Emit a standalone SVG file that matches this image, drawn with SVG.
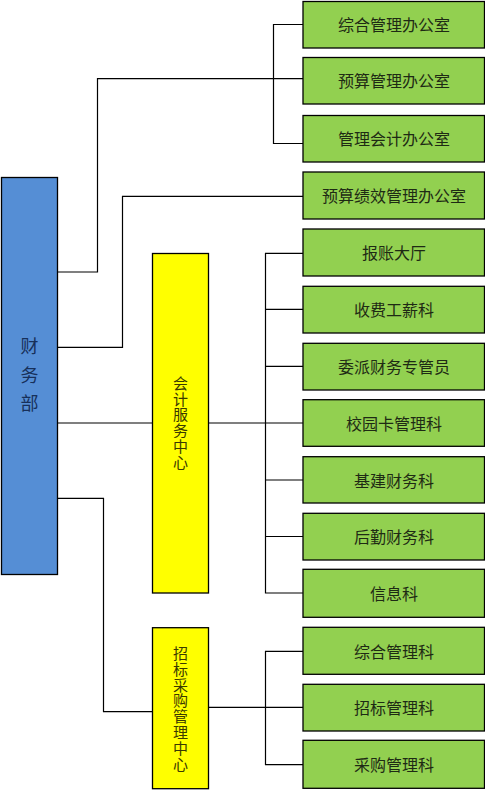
<svg xmlns="http://www.w3.org/2000/svg" width="485" height="790" viewBox="0 0 485 790">
<style>
.bx{stroke:#000;stroke-width:1.3}
.g{fill:#92D050}
.y{fill:#FFFF00}
.b{fill:#558ED5}
.t{font-family:"Noto Sans CJK SC","Liberation Sans",sans-serif;font-size:16px;fill:#1e2a14;text-anchor:middle;dominant-baseline:central}
.tv{font-family:"Noto Sans CJK SC","Liberation Sans",sans-serif;font-size:15px;fill:#3a3a00;text-anchor:middle;writing-mode:vertical-rl;letter-spacing:0.8px}
.tb{font-family:"Noto Sans CJK SC","Liberation Sans",sans-serif;font-size:18px;fill:#17305a;text-anchor:middle;writing-mode:vertical-rl;letter-spacing:10.3px}
.c{fill:none;stroke:#000;stroke-width:1.2}
</style>
<rect width="485" height="790" fill="#fff"/>
<g id="connectors">
<path class="c" d="M303 24.5H273.5V143.5H303"/>
<path class="c" d="M57.5 272H97.5V78.7H303"/>
<path class="c" d="M57.5 347.3H122.5V196.3H303"/>
<path class="c" d="M57.5 423H152.5"/>
<path class="c" d="M208.5 423H303"/>
<path class="c" d="M303 253.3H265.5V593H303"/>
<path class="c" d="M265.5 309.3H303M265.5 366.3H303M265.5 480H303M265.5 536.5H303"/>
<path class="c" d="M57.5 498.3H103.5V711.7H152.5"/>
<path class="c" d="M208.5 707.3H303"/>
<path class="c" d="M303 651.3H265.5V764.7H303"/>
</g>
<g id="caiwubu"><rect class="bx b" x="1.5" y="177.5" width="56" height="397"/>
<text class="tb" x="29.5" y="380">财务部</text></g>
<g id="kuaiji"><rect class="bx y" x="152.5" y="253.5" width="56" height="339.5"/>
<text class="tv" x="180.5" y="423">会计服务中心</text></g>
<g id="zhaobiao"><rect class="bx y" x="152.5" y="627.7" width="56" height="161"/>
<text class="tv" x="180.5" y="709">招标采购管理中心</text></g>
<g id="n1"><rect class="bx g" x="303" y="1.5" width="181.5" height="46.5"/><text class="t" x="394" y="24.3">综合管理办公室</text></g>
<g id="n2"><rect class="bx g" x="303" y="57.5" width="181.5" height="46.5"/><text class="t" x="394" y="80.3">预算管理办公室</text></g>
<g id="n3"><rect class="bx g" x="303" y="115.5" width="181.5" height="46.5"/><text class="t" x="394" y="138.3">管理会计办公室</text></g>
<g id="n4"><rect class="bx g" x="303" y="172" width="181.5" height="47"/><text class="t" x="394" y="195.3">预算绩效管理办公室</text></g>
<g id="n5"><rect class="bx g" x="303" y="229" width="181.5" height="47"/><text class="t" x="394" y="252.3">报账大厅</text></g>
<g id="n6"><rect class="bx g" x="303" y="286.3" width="181.5" height="46.7"/><text class="t" x="394" y="309.3">收费工薪科</text></g>
<g id="n7"><rect class="bx g" x="303" y="343.3" width="181.5" height="46.7"/><text class="t" x="394" y="366.3">委派财务专管员</text></g>
<g id="n8"><rect class="bx g" x="303" y="399.7" width="181.5" height="46.6"/><text class="t" x="394" y="422.8">校园卡管理科</text></g>
<g id="n9"><rect class="bx g" x="303" y="456.7" width="181.5" height="46.3"/><text class="t" x="394" y="479.6">基建财务科</text></g>
<g id="n10"><rect class="bx g" x="303" y="513.3" width="181.5" height="46.7"/><text class="t" x="394" y="536.3">后勤财务科</text></g>
<g id="n11"><rect class="bx g" x="303" y="569.3" width="181.5" height="48"/><text class="t" x="394" y="592.8">信息科</text></g>
<g id="n12"><rect class="bx g" x="303" y="627.3" width="181.5" height="47"/><text class="t" x="394" y="650.6">综合管理科</text></g>
<g id="n13"><rect class="bx g" x="303" y="684.3" width="181.5" height="46.7"/><text class="t" x="394" y="707.3">招标管理科</text></g>
<g id="n14"><rect class="bx g" x="303" y="740.3" width="181.5" height="48"/><text class="t" x="394" y="763.8">采购管理科</text></g>
</svg>
